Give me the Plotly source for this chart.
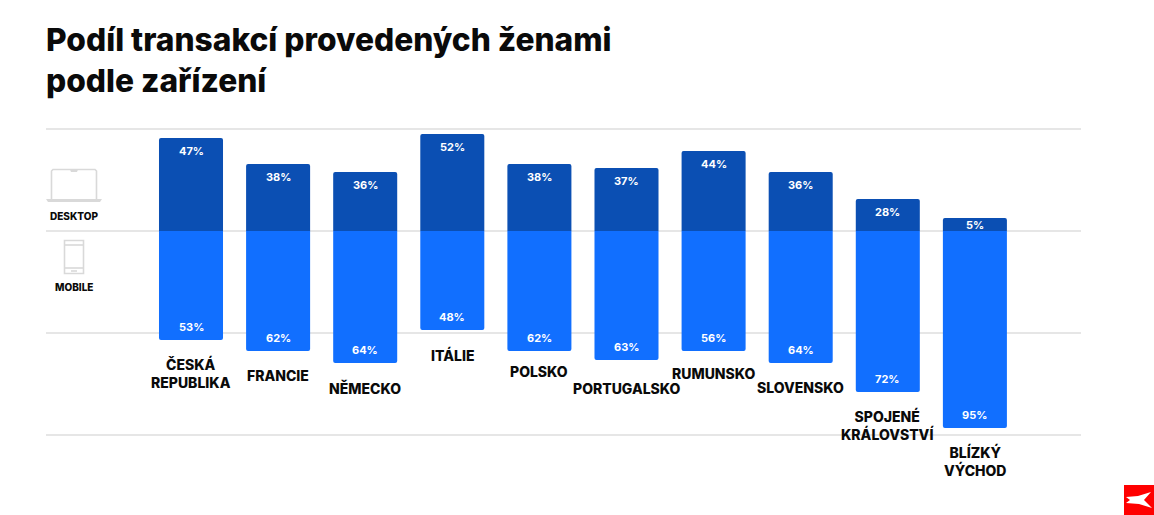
import plotly.graph_objects as go

countries = ["ČESKÁ<br>REPUBLIKA", "FRANCIE", "NĚMECKO", "ITÁLIE", "POLSKO", "PORTUGALSKO",
             "RUMUNSKO", "SLOVENSKO", "SPOJENÉ<br>KRÁLOVSTVÍ", "BLÍZKÝ<br>VÝCHOD"]
desktop_labels = [47, 38, 36, 52, 38, 37, 44, 36, 28, 5]
mobile_labels = [53, 62, 64, 48, 62, 63, 56, 64, 72, 95]
# Bar lengths as drawn in the picture (they do not scale exactly with the printed labels)
desktop_bars = [45.6, 32.8, 28.9, 47.5, 32.8, 30.9, 39.2, 28.9, 15.7, 6.4]
mobile_bars = [53.4, 58.8, 64.7, 48.5, 58.8, 63.2, 58.8, 64.7, 78.9, 96.6]
# Vertical gap (px) between bar end and the centre of its country label
name_gaps = [33, 25, 25, 25, 21, 29, 23, 25, 33, 33]

W, H = 1154, 515
L, R, T, B = 46, 1081, 125, 439
SCALE = 2.04
DARK, BLUE, GRID, ICON = "#0B4FB3", "#116FFF", "#E6E6E6", "#D9D9D9"
FONT = "Inter"

def px(x):
    return (x - L) / (R - L)

def py(y):
    return (B - y) / (B - T)

def path(points, close=True):
    s = "M" + " L".join(f"{px(x):.5f},{py(y):.5f}" for x, y in points)
    return s + (" Z" if close else "")

fig = go.Figure()
fig.add_bar(x=countries, y=desktop_bars, name="Desktop", marker_color=DARK, marker_line_width=0)
fig.add_bar(x=countries, y=[-v for v in mobile_bars], name="Mobile", marker_color=BLUE, marker_line_width=0)

annotations = []
for c, d, m, dl, ml, gap in zip(countries, desktop_bars, mobile_bars, desktop_labels, mobile_labels, name_gaps):
    annotations.append(dict(x=c, y=d, text=f"{dl}%", yshift=-min(13, d * SCALE / 2 + 0.5), showarrow=False,
                            font=dict(family=FONT, size=11, color="white", weight=700), yanchor="middle"))
    annotations.append(dict(x=c, y=-m, text=f"{ml}%", yshift=13, showarrow=False,
                            font=dict(family=FONT, size=11, color="white", weight=700), yanchor="middle"))
    annotations.append(dict(x=c, y=-m, text=c, yshift=-gap, showarrow=False,
                            font=dict(family=FONT, size=14, color="#0A0A0A", weight=800), yanchor="middle"))
for label, y in (("DESKTOP", 216), ("MOBILE", 287)):
    annotations.append(dict(xref="paper", yref="paper", x=px(73.5), y=py(y), text=label, showarrow=False,
                            xanchor="center", yanchor="middle",
                            font=dict(family=FONT, size=10, color="#0A0A0A", weight=800)))

line = dict(color=ICON, width=1.6)
shapes = [
    # laptop
    dict(type="path", xref="paper", yref="paper", line=line, layer="above",
         path=path([(51.5, 199), (51.5, 171), (53, 169.5), (95, 169.5), (96.5, 171), (96.5, 199)], close=False)),
    dict(type="path", xref="paper", yref="paper", line=dict(width=0), fillcolor=ICON,
         path=path([(70, 169.5), (78, 169.5), (77, 172), (71, 172)])),
    dict(type="path", xref="paper", yref="paper", line=dict(width=0), fillcolor=ICON,
         path=path([(46, 199), (102, 199), (100, 202), (48, 202)])),
    # phone
    dict(type="rect", xref="paper", yref="paper", line=line, x0=px(64.5), x1=px(83.5), y0=py(240.5), y1=py(273.5)),
    dict(type="line", xref="paper", yref="paper", line=line, x0=px(64.5), x1=px(83.5), y0=py(245), y1=py(245)),
    dict(type="line", xref="paper", yref="paper", line=line, x0=px(64.5), x1=px(83.5), y0=py(268), y1=py(268)),
    dict(type="line", xref="paper", yref="paper", line=line, x0=px(71), x1=px(77), y0=py(271), y1=py(271)),
    # logo
    dict(type="rect", xref="paper", yref="paper", line=dict(width=0), fillcolor="#FF0000",
         x0=px(1124), x1=px(1154), y0=py(485), y1=py(515)),
    dict(type="path", xref="paper", yref="paper", line=dict(width=0), fillcolor="white",
         path=path([(1126, 497), (1138, 496), (1151, 492), (1144, 500), (1152, 508), (1139, 504), (1126, 503), (1130, 500)])),
]

fig.update_layout(
    width=W, height=H, margin=dict(l=L, r=W - R, t=T, b=H - B),
    paper_bgcolor="white", plot_bgcolor="white", showlegend=False,
    barmode="relative", bargap=0.265, barcornerradius=2,
    title=dict(text="Podíl transakcí provedených ženami<br>podle zařízení", x=46 / W, xanchor="left",
               y=1 - 50.5 / H, yanchor="middle", font=dict(family=FONT, size=31.7, color="#0A0A0A", weight=800)),
    xaxis=dict(type="category", categoryorder="array", categoryarray=countries, showticklabels=False,
               showgrid=False, zeroline=False, showline=False, ticks="",
               range=[(L - 191) / 87.1, (R - 191) / 87.1]),
    yaxis=dict(range=[(231 - B) / SCALE, (231 - T) / SCALE], tickvals=[-100, -50, 0, 50], showticklabels=False,
               ticks="", showgrid=True, gridcolor=GRID, gridwidth=2, zeroline=False, showline=False),
    annotations=annotations, shapes=shapes,
)
fig.write_html("out.html", config=dict(displayModeBar=False), post_script="document.body.style.margin='0';")
